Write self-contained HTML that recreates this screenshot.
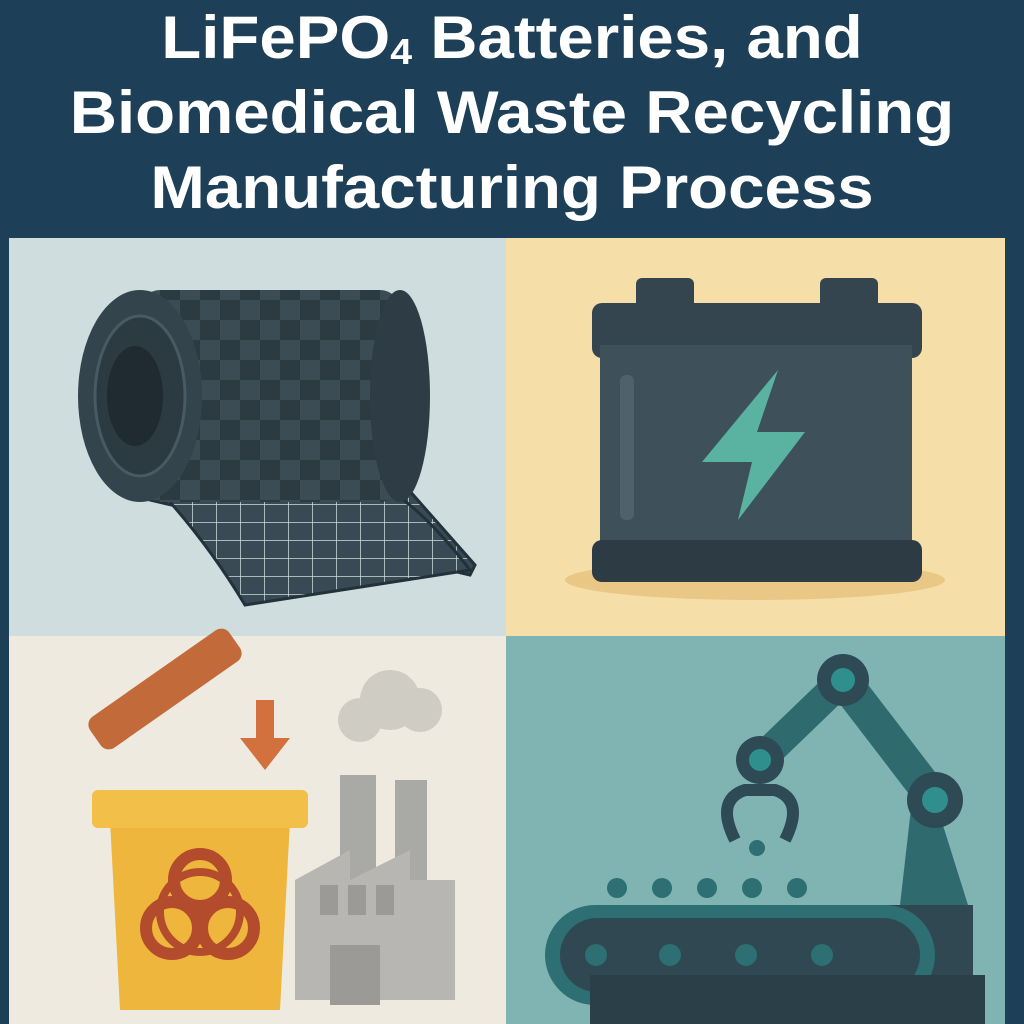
<!DOCTYPE html>
<html><head><meta charset="utf-8"><style>
html,body{margin:0;padding:0;width:1024px;height:1024px;overflow:hidden;background:#1d4058}
.t{position:absolute;left:0;width:1024px;text-align:center;color:#fff;font-family:"Liberation Sans",sans-serif;font-weight:bold;font-size:60px;line-height:75px;transform:scaleX(1.09);transform-origin:center}
</style></head><body>
<div class="t" style="top:0px">LiFePO<sub style="font-size:36px;vertical-align:-6px">4</sub> Batteries, and</div>
<div class="t" style="top:75px">Biomedical Waste Recycling</div>
<div class="t" style="top:150px">Manufacturing Process</div>
<svg width="1024" height="1024" style="position:absolute;left:0;top:0" viewBox="0 0 1024 1024">
<rect x="9" y="238" width="497" height="398" fill="#cfdddf"/>
<rect x="506" y="238" width="499" height="398" fill="#f6dea8"/>
<rect x="9" y="636" width="497" height="388" fill="#eeeadf"/>
<rect x="506" y="636" width="499" height="388" fill="#7fb4b2"/>
<defs><pattern id="ch" width="40" height="40" patternUnits="userSpaceOnUse"><rect width="40" height="40" fill="#3c4c55"/><rect width="20" height="20" fill="#2c3a42"/><rect x="20" y="20" width="20" height="20" fill="#2c3a42"/></pattern>
<pattern id="gr" width="24" height="18" patternUnits="userSpaceOnUse"><rect width="24" height="18" fill="#3a4a54"/><path d="M0 0H24M0 0V18" stroke="#cfdddf" stroke-width="1.5"/></pattern></defs>
<path d="M140 470 L150 500 L470 575 L475 565 L400 480 Z" fill="url(#gr)" stroke="#22313a" stroke-width="3"/>
<path d="M380 485 Q420 505 470 570 L245 605 Q200 530 140 470 Z" fill="url(#gr)" stroke="#22313a" stroke-width="3"/>
<rect x="140" y="290" width="260" height="212" rx="20" fill="url(#ch)"/>
<ellipse cx="400" cy="396" rx="30" ry="106" fill="#2e3d45"/>
<ellipse cx="140" cy="396" rx="62" ry="106" fill="#34444d"/>
<ellipse cx="140" cy="396" rx="45" ry="80" fill="#2c3a42" stroke="#485a63" stroke-width="3"/>
<ellipse cx="135" cy="396" rx="28" ry="50" fill="#1f2b31"/>
<ellipse cx="755" cy="580" rx="190" ry="20" fill="#e9c886"/>
<rect x="636" y="278" width="58" height="40" rx="6" fill="#34454f"/>
<rect x="820" y="278" width="58" height="40" rx="6" fill="#34454f"/>
<rect x="592" y="303" width="330" height="55" rx="10" fill="#34454f"/>
<rect x="600" y="345" width="312" height="205" fill="#3e5059"/>
<rect x="592" y="540" width="330" height="42" rx="10" fill="#2c3b44"/>
<rect x="620" y="375" width="14" height="145" rx="6" fill="#4f626b"/>
<polygon points="778,370 702,462 752,462 738,520 805,432 757,432" fill="#5ab3a0"/>
<rect x="80" y="670" width="170" height="38" rx="10" transform="rotate(-35 165 689)" fill="#c36a3b"/>
<rect x="256" y="700" width="18" height="40" fill="#d2703e"/><polygon points="240,738 290,738 265,770" fill="#d2703e"/>
<rect x="340" y="775" width="36" height="150" fill="#a9a9a6"/><rect x="395" y="780" width="32" height="150" fill="#a9a9a6"/>
<circle cx="390" cy="700" r="30" fill="#cfccc4"/><circle cx="360" cy="720" r="22" fill="#cfccc4"/><circle cx="420" cy="710" r="22" fill="#cfccc4"/>
<polygon points="295,1000 295,880 350,850 350,880 410,850 410,880 455,880 455,1000" fill="#b7b6b2"/>
<rect x="320" y="885" width="18" height="30" fill="#9b9a96"/><rect x="348" y="885" width="18" height="30" fill="#9b9a96"/><rect x="376" y="885" width="18" height="30" fill="#9b9a96"/>
<rect x="330" y="945" width="50" height="60" fill="#9b9a96"/>
<path d="M110 820 L290 820 L280 1010 L120 1010 Z" fill="#efb63d"/>
<rect x="92" y="790" width="216" height="38" rx="6" fill="#f2c048"/>
<g fill="none" stroke="#b34c2c" stroke-width="12"><circle cx="200" cy="880" r="26"/><circle cx="172" cy="928" r="26"/><circle cx="228" cy="928" r="26"/><circle cx="200" cy="912" r="40" stroke-width="8"/></g>
<circle cx="200" cy="912" r="9" fill="#b34c2c"/>
<rect x="878" y="905" width="95" height="119" fill="#2f4852"/>
<path d="M935 800 L968 905 L900 905 L912 800 Z" fill="#2f6b6e"/>
<path d="M843 680 L935 800" stroke="#2f6b6e" stroke-width="34"/>
<path d="M843 680 L760 760" stroke="#2f6b6e" stroke-width="30"/>
<circle cx="843" cy="680" r="26" fill="#2d4a55"/><circle cx="843" cy="680" r="12" fill="#2f8f8c"/>
<circle cx="935" cy="800" r="28" fill="#2d4a55"/><circle cx="935" cy="800" r="13" fill="#2f8f8c"/>
<circle cx="760" cy="760" r="24" fill="#2d4a55"/><circle cx="760" cy="760" r="11" fill="#2f8f8c"/>
<path d="M735 840 Q715 800 745 790 L775 790 Q805 800 785 840" fill="none" stroke="#2d4a55" stroke-width="12"/>
<circle cx="757" cy="848" r="8" fill="#2d6f72"/>
<g fill="#2d6f72"><circle cx="617" cy="888" r="10"/><circle cx="662" cy="888" r="10"/><circle cx="707" cy="888" r="10"/><circle cx="752" cy="888" r="10"/><circle cx="797" cy="888" r="10"/></g>
<rect x="545" y="905" width="390" height="100" rx="50" fill="#2d6f72"/>
<rect x="560" y="918" width="360" height="74" rx="37" fill="#2f4852"/>
<g fill="#2d6f72"><circle cx="596" cy="955" r="11"/><circle cx="670" cy="955" r="11"/><circle cx="746" cy="955" r="11"/><circle cx="822" cy="955" r="11"/></g>
<rect x="590" y="975" width="395" height="49" fill="#2a3f48"/>
</svg>
</body></html>
